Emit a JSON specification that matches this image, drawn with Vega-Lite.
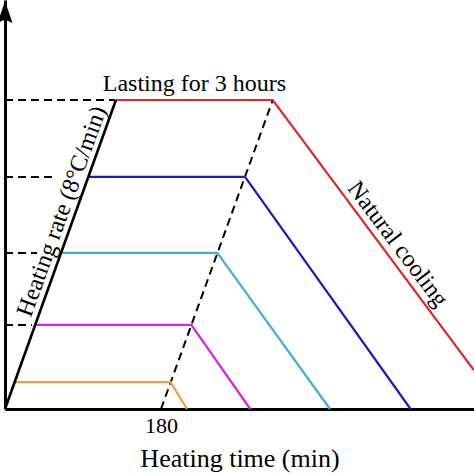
{
  "$schema": "https://vega.github.io/schema/vega-lite/v6.json",
  "width": 469,
  "height": 409,
  "autosize": {"type": "none"},
  "padding": {"left": 5, "top": 0, "right": 0, "bottom": 65},
  "background": "white",
  "config": {
    "view": {"stroke": null},
    "font": "Liberation Serif",
    "axis": {"grid": false, "domainColor": "black", "domainWidth": 3, "ticks": false, "tickSize": 0}
  },
  "datasets": {
    "profiles": [
      {"series": "red", "order": 1, "t": 128, "T": 1000},
      {"series": "red", "order": 2, "t": 309, "T": 1000},
      {"series": "red", "order": 3, "t": 541, "T": 126},
      {"series": "blue", "order": 1, "t": 96, "T": 751},
      {"series": "blue", "order": 2, "t": 277, "T": 751},
      {"series": "blue", "order": 3, "t": 468, "T": 0},
      {"series": "cyan", "order": 1, "t": 65, "T": 505},
      {"series": "cyan", "order": 2, "t": 245, "T": 505},
      {"series": "cyan", "order": 3, "t": 375, "T": 0},
      {"series": "magenta", "order": 1, "t": 35, "T": 272},
      {"series": "magenta", "order": 2, "t": 215, "T": 272},
      {"series": "magenta", "order": 3, "t": 283, "T": 0},
      {"series": "orange", "order": 1, "t": 11, "T": 87},
      {"series": "orange", "order": 2, "t": 191, "T": 87},
      {"series": "orange", "order": 3, "t": 210, "T": 0}
    ],
    "heating": [
      {"t": 0, "T": 0},
      {"t": 128, "T": 1000}
    ],
    "dashed": [
      {"id": "end", "order": 1, "t": 180, "T": 0},
      {"id": "end", "order": 2, "t": 309, "T": 1000},
      {"id": "h1000", "order": 1, "t": 0, "T": 1000},
      {"id": "h1000", "order": 2, "t": 127, "T": 1000},
      {"id": "h751", "order": 1, "t": 0, "T": 751},
      {"id": "h751", "order": 2, "t": 58, "T": 751},
      {"id": "h505", "order": 1, "t": 0, "T": 505},
      {"id": "h505", "order": 2, "t": 37, "T": 505},
      {"id": "h272", "order": 1, "t": 0, "T": 272},
      {"id": "h272", "order": 2, "t": 31, "T": 272}
    ],
    "arrow": [{"t": 0, "T": 1283}],
    "lasting": [{"t": 218.6, "T": 1030, "label": "Lasting for 3 hours"}],
    "rate": [{"t": 80, "T": 625, "label": "Heating rate (8°C/min)"}],
    "cooling": [{"t": 441, "T": 508, "label": "Natural cooling"}]
  },
  "layer": [
    {
      "data": {"name": "dashed"},
      "mark": {"type": "line", "color": "black", "strokeWidth": 2, "strokeDash": [8, 5]},
      "encoding": {
        "x": {"field": "t", "type": "quantitative", "scale": {"domain": [0, 541.2], "nice": false, "zero": false},
              "axis": {"values": [180], "title": "Heating time (min)", "labelFontSize": 22, "labelColor": "black", "labelPadding": 6, "labelFont": "Liberation Serif", "labelDx": 2,
                       "titleFontSize": 26, "titleFontWeight": "normal", "titleColor": "black", "titleFont": "Liberation Serif", "titleY": 57, "titleBaseline": "alphabetic"}},
        "y": {"field": "T", "type": "quantitative", "scale": {"domain": [0, 1323.6], "nice": false, "zero": false},
              "axis": {"labels": false, "title": null}},
        "detail": {"field": "id"},
        "order": {"field": "order"}
      }
    },
    {
      "data": {"name": "profiles"},
      "mark": {"type": "line", "strokeWidth": 2.2},
      "encoding": {
        "x": {"field": "t", "type": "quantitative"},
        "y": {"field": "T", "type": "quantitative"},
        "color": {"field": "series", "type": "nominal", "legend": null,
                  "scale": {"domain": ["red", "blue", "cyan", "magenta", "orange"],
                            "range": ["#e0262b", "#1c1cba", "#3fb0d9", "#e020e0", "#efa03e"]}},
        "order": {"field": "order"}
      }
    },
    {
      "data": {"name": "heating"},
      "mark": {"type": "line", "color": "black", "strokeWidth": 2.6},
      "encoding": {
        "x": {"field": "t", "type": "quantitative"},
        "y": {"field": "T", "type": "quantitative"}
      }
    },
    {
      "data": {"name": "arrow"},
      "mark": {"type": "point", "shape": "M0,-1L0.65,0.9L0,0.6L-0.65,0.9Z", "filled": true, "color": "black", "opacity": 1, "size": 529},
      "encoding": {
        "x": {"field": "t", "type": "quantitative"},
        "y": {"field": "T", "type": "quantitative"}
      }
    },
    {
      "data": {"name": "lasting"},
      "mark": {"type": "text", "fontSize": 24, "font": "Liberation Serif", "color": "black", "align": "center", "baseline": "alphabetic"},
      "encoding": {
        "x": {"field": "t", "type": "quantitative"},
        "y": {"field": "T", "type": "quantitative"},
        "text": {"field": "label"}
      }
    },
    {
      "data": {"name": "rate"},
      "mark": {"type": "text", "fontSize": 24, "font": "Liberation Serif", "color": "black", "align": "center", "baseline": "alphabetic", "angle": 290, "dy": -6},
      "encoding": {
        "x": {"field": "t", "type": "quantitative"},
        "y": {"field": "T", "type": "quantitative"},
        "text": {"field": "label"}
      }
    },
    {
      "data": {"name": "cooling"},
      "mark": {"type": "text", "fontSize": 24, "font": "Liberation Serif", "color": "black", "align": "center", "baseline": "alphabetic", "angle": 53, "dy": -6},
      "encoding": {
        "x": {"field": "t", "type": "quantitative"},
        "y": {"field": "T", "type": "quantitative"},
        "text": {"field": "label"}
      }
    }
  ]
}
